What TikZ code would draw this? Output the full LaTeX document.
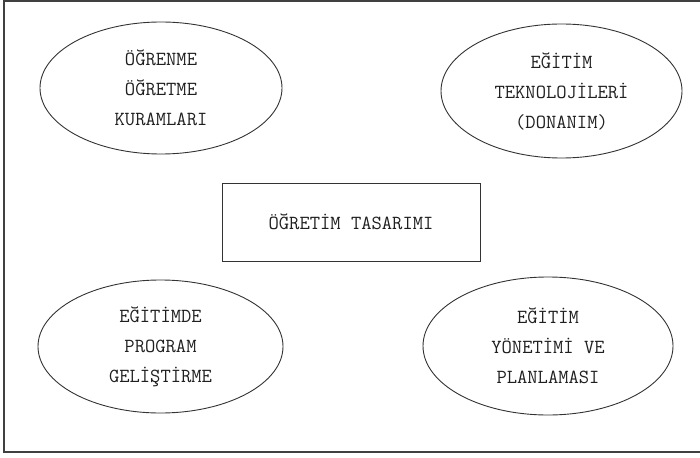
\documentclass[tikz,border=0pt]{standalone}
\usetikzlibrary{shapes.geometric}
\begin{document}
\begin{tikzpicture}[x=1pt,y=-1pt,
  lbl/.style={font=\ttfamily\fontsize{20}{30}\selectfont, text=black!88, align=center},
  oval/.style={ellipse, draw=black!80, line width=0.9pt, inner sep=0pt, lbl},
  box/.style={rectangle, draw=black!80, line width=0.9pt, inner sep=0pt, lbl}]
\useasboundingbox (0,0) rectangle (700,457);
\draw[black!75, line width=1.1pt] (703,1) -- (4,1) -- (4,452) -- (703,452);
\node[oval, minimum width=242pt, minimum height=132pt] (kuram) at (161,88) {ÖĞRENME\\ÖĞRETME\\KURAMLARI};
\node[oval, minimum width=241pt, minimum height=134pt] (tekno) at (561.5,91) {EĞİTİM\\TEKNOLOJİLERİ\\(DONANIM)};
\node[box, minimum width=258pt, minimum height=78pt] (tasarim) at (351,222) {ÖĞRETİM TASARIMI};
\node[oval, minimum width=245pt, minimum height=133pt] (program) at (160.5,346.5) {EĞİTİMDE\\PROGRAM\\GELİŞTİRME};
\node[oval, minimum width=250pt, minimum height=138pt] (yonetim) at (548,346) {EĞİTİM\\YÖNETİMİ VE\\PLANLAMASI};
\end{tikzpicture}
\end{document}
